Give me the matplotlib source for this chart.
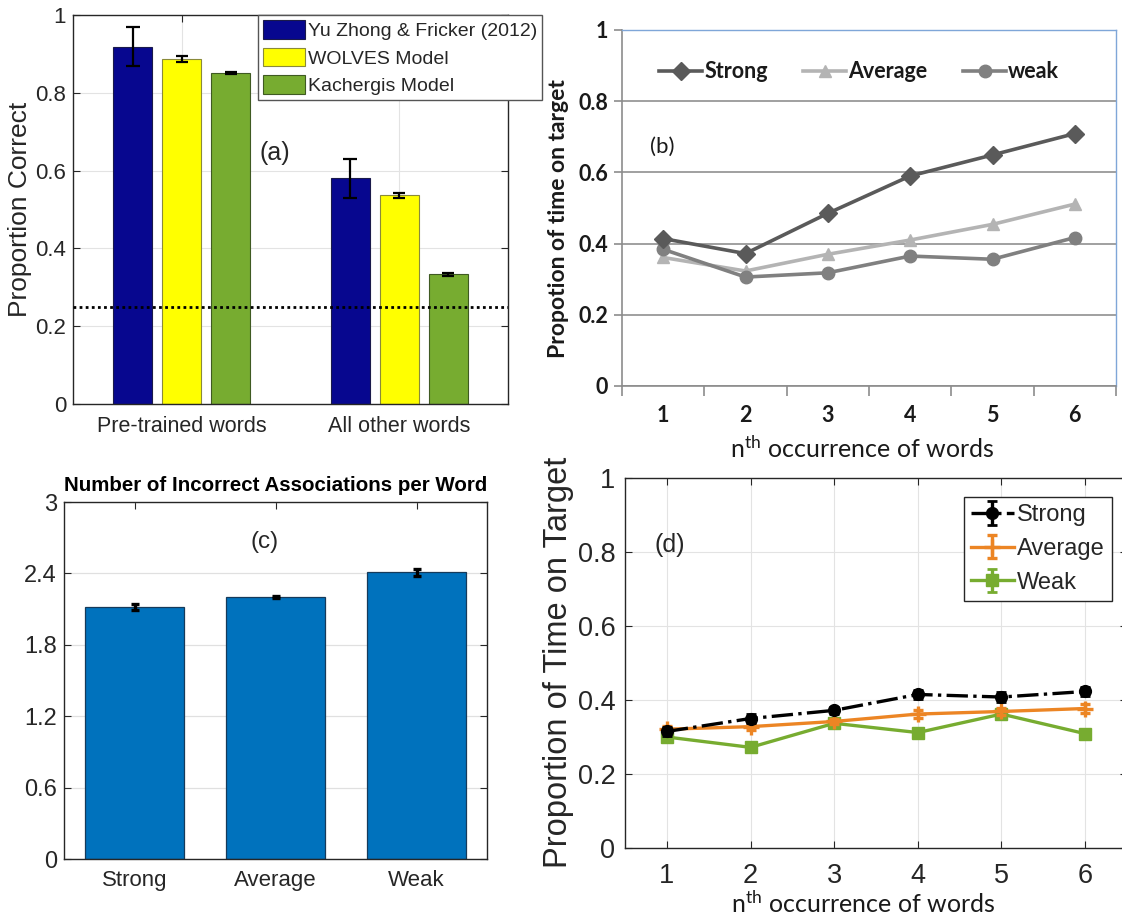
import numpy as np
import matplotlib
matplotlib.use('Agg')
import matplotlib.pyplot as plt

plt.rcParams['font.family'] = ['Liberation Sans', 'DejaVu Sans']
plt.rcParams['mathtext.fontset'] = 'custom'
plt.rcParams['mathtext.rm'] = 'Lato'
plt.rcParams['mathtext.it'] = 'Lato'

# ---- data: panel (a)
a_groups = ['Pre-trained words', 'All other words']
a_series = ['Yu Zhong & Fricker (2012)', 'WOLVES Model', 'Kachergis Model']
a_yu = [0.918, 0.580]
a_yu_err = [0.050, 0.050]
a_wolves = [0.887, 0.536]
a_wolves_err = [0.007, 0.006]
a_kach = [0.851, 0.334]
a_kach_err = [0.003, 0.004]
chance = 0.25

# ---- data: panel (b)
occ = [1, 2, 3, 4, 5, 6]
b_strong = [0.414, 0.372, 0.485, 0.590, 0.649, 0.709]
b_average = [0.361, 0.323, 0.370, 0.410, 0.454, 0.511]
b_weak = [0.384, 0.306, 0.318, 0.365, 0.356, 0.417]

# ---- data: panel (c)
c_cats = ['Strong', 'Average', 'Weak']
c_vals = [2.115, 2.198, 2.408]
c_err = [0.025, 0.008, 0.033]

# ---- data: panel (d)
d_strong = [0.315, 0.350, 0.372, 0.415, 0.408, 0.423]
d_strong_err = [0.012, 0.012, 0.010, 0.012, 0.014, 0.012]
d_average = [0.321, 0.328, 0.342, 0.362, 0.369, 0.377]
d_average_err = [0.010, 0.010, 0.008, 0.010, 0.010, 0.012]
d_weak = [0.300, 0.272, 0.337, 0.312, 0.362, 0.309]
d_weak_err = [0.012, 0.013, 0.012, 0.011, 0.014, 0.013]

W, H = 1122.0, 917.0
fig = plt.figure(figsize=(W / 100, H / 100), dpi=100)
fig.patch.set_facecolor('white')


def box(x0, y0, x1, y1):
    return [x0 / W, 1 - y1 / H, (x1 - x0) / W, (y1 - y0) / H]


def matlab_style(ax, fs):
    for s in ax.spines.values():
        s.set_color('#262626')
        s.set_linewidth(1.0)
    ax.tick_params(direction='in', top=True, right=True, length=5,
                   width=0.8, colors='#262626', labelsize=fs)


# ================= (a)
ax = fig.add_axes(box(73, 15, 508, 404))
gx = np.arange(1, len(a_groups) + 1)
off = 0.225
bw = 0.18
ax.bar(gx - off, a_yu, bw, color='#07078f', edgecolor='#1a1a4a', linewidth=0.8,
       label=a_series[0], zorder=2)
ax.bar(gx, a_wolves, bw, color='#ffff00', edgecolor='#8a8a3a', linewidth=0.8,
       label=a_series[1], zorder=2)
ax.bar(gx + off, a_kach, bw, color='#77ac30', edgecolor='#3f5a22', linewidth=0.8,
       label=a_series[2], zorder=2)
ax.errorbar(gx - off, a_yu, yerr=a_yu_err, fmt='none', ecolor='black',
            elinewidth=1.6, capsize=5, capthick=1.6, zorder=4)
ax.errorbar(gx, a_wolves, yerr=a_wolves_err, fmt='none', ecolor='black',
            elinewidth=1.6, capsize=4, capthick=1.6, zorder=4)
ax.errorbar(gx + off, a_kach, yerr=a_kach_err, fmt='none', ecolor='black',
            elinewidth=1.6, capsize=4, capthick=1.6, zorder=4)
ax.axhline(chance, color='black', linestyle=(0, (1, 1.2)), linewidth=2, zorder=3)
ax.set_xlim(0.5, 2.5)
ax.set_ylim(0, 1)
ax.set_xticks(gx)
ax.set_xticklabels(a_groups)
ax.set_yticks([0, 0.2, 0.4, 0.6, 0.8, 1])
ax.set_yticklabels(['0', '0.2', '0.4', '0.6', '0.8', '1'])
ax.grid(True, color='#e3e3e3', linewidth=0.8, zorder=0)
ax.set_axisbelow(True)
matlab_style(ax, 15.5)
ax.tick_params(axis='x', pad=9)
ax.tick_params(axis='y', pad=5, labelsize=16)
ax.set_ylabel('Proportion Correct', fontsize=19, color='#262626')
ax.yaxis.set_label_coords(-0.122, 0.5)
ax.yaxis.label.set_va('center')
ax.text(1.43, 0.645, '(a)', fontsize=18, ha='center', va='center', color='#262626')
leg = ax.legend(loc='upper left', bbox_to_anchor=(258 / W, 1 - 15 / H),
                bbox_transform=fig.transFigure, fontsize=14, frameon=True,
                fancybox=False, borderpad=0.25, borderaxespad=0,
                handlelength=2.15, handleheight=1.1, handletextpad=0.15,
                labelspacing=0.4)
leg.get_frame().set_edgecolor('#555555')
leg.get_frame().set_linewidth(1.0)
leg.get_frame().set_alpha(1)
for t in leg.get_texts():
    t.set_color('#262626')

# ================= (b)
ax = fig.add_axes(box(622, 30, 1116, 386))
ax.plot(occ, b_strong, color='#5a5a5a', linewidth=2.6, marker='D',
        markersize=9, label='Strong', zorder=4)
ax.plot(occ, b_average, color='#b4b4b4', linewidth=2.6, marker='^',
        markersize=9, label='Average', zorder=3)
ax.plot(occ, b_weak, color='#808080', linewidth=2.6, marker='o',
        markersize=9, label='weak', zorder=3)
ax.set_xlim(0.5, 6.5)
ax.set_ylim(0, 1)
ax.set_yticks([0, 0.2, 0.4, 0.6, 0.8, 1])
ax.set_yticklabels(['0', '0.2', '0.4', '0.6', '0.8', '1'])
ax.set_xticks(occ)
ax.set_xticklabels([str(v) for v in occ])
ax.set_xticks(np.arange(0.5, 7.0, 1.0), minor=True)
ax.grid(True, axis='y', color='#a0a0a0', linewidth=1.4, zorder=0)
ax.set_axisbelow(True)
for s in ['left', 'bottom']:
    ax.spines[s].set_color('#8c8c8c')
    ax.spines[s].set_linewidth(1.2)
for s in ['top', 'right']:
    ax.spines[s].set_color('#7fa6d8')
    ax.spines[s].set_linewidth(1.0)
ax.tick_params(axis='y', direction='out', length=6, width=1.2, color='#8c8c8c',
               pad=4, labelsize=15.5)
ax.tick_params(axis='x', which='major', length=0, pad=14, labelsize=15.5)
ax.tick_params(axis='x', which='minor', direction='out', length=7, width=1.2,
               color='#8c8c8c')
for lab in ax.get_xticklabels() + ax.get_yticklabels():
    lab.set_family(['Lato', 'DejaVu Sans'])
    lab.set_fontweight('bold')
    lab.set_color('#1a1a1a')
ax.set_ylabel('Propotion of time on target', fontsize=16.5, fontweight='bold',
              family=['Lato', 'DejaVu Sans'], color='#1a1a1a')
ax.yaxis.set_label_coords(-0.128, 0.469)
ax.yaxis.label.set_va('center')
ax.set_xlabel(r'$\mathrm{n^{th}}$ occurrence of words', fontsize=18,
              family=['Lato', 'DejaVu Sans'], color='#1a1a1a')
ax.xaxis.set_label_coords(0.487, -0.177)
ax.xaxis.label.set_va('center')
ax.text(0.99, 0.671, '(b)', fontsize=16, ha='center', va='center',
        family=['Lato', 'DejaVu Sans'], color='#1a1a1a')
leg = ax.legend(loc='center left', bbox_to_anchor=(659 / W, 1 - 72 / H),
                bbox_transform=fig.transFigure, ncol=3, frameon=False,
                borderpad=0, borderaxespad=0, handlelength=2.0,
                handletextpad=0.1, columnspacing=1.65,
                prop={'family': ['Lato', 'DejaVu Sans'], 'weight': 'bold',
                      'size': 15.5})
for t in leg.get_texts():
    t.set_color('#1a1a1a')

# ================= (c)
ax = fig.add_axes(box(64, 502, 487, 859))
cx = np.arange(1, len(c_cats) + 1)
ax.bar(cx, c_vals, 0.70, color='#0072bd', edgecolor='#163a5a', linewidth=0.9,
       zorder=2)
ax.errorbar(cx, c_vals, yerr=c_err, fmt='none', ecolor='black', elinewidth=2.4,
            capsize=3, capthick=2.4, zorder=4)
ax.set_xlim(0.5, 3.5)
ax.set_ylim(0, 3)
ax.set_xticks(cx)
ax.set_xticklabels(c_cats)
ax.set_yticks([0, 0.6, 1.2, 1.8, 2.4, 3])
ax.set_yticklabels(['0', '0.6', '1.2', '1.8', '2.4', '3'])
ax.grid(True, axis='y', color='#e0e0e0', linewidth=0.9, zorder=0)
ax.set_axisbelow(True)
matlab_style(ax, 16)
ax.tick_params(axis='x', pad=8)
ax.tick_params(axis='y', pad=5, labelsize=17)
ax.text(0.5, 1 + 17 / 357.0, 'Number of Incorrect Associations per Word',
        transform=ax.transAxes, ha='center', va='center', fontsize=14.8,
        fontweight='bold', color='black')
ax.text(1.925, 2.66, '(c)', fontsize=17.5, ha='center', va='center', color='#262626')

# ================= (d)
ax = fig.add_axes(box(625, 478, 1127, 848))
ax.errorbar(occ, d_strong, yerr=d_strong_err, color='black', linestyle='-.',
            linewidth=2.4, marker='o', markersize=8.5, capsize=3.5, capthick=2,
            label='Strong', zorder=5)
ax.errorbar(occ, d_average, yerr=d_average_err, color='#ec8524', linestyle='-',
            linewidth=2.4, marker='+', markersize=11, mew=2.4, capsize=3.5,
            capthick=2, label='Average', zorder=4)
ax.errorbar(occ, d_weak, yerr=d_weak_err, color='#77ac30', linestyle='-',
            linewidth=2.4, marker='s', markersize=8.5, capsize=3.5, capthick=2,
            label='Weak', zorder=3)
ax.set_xlim(0.5, 6.5)
ax.set_ylim(0, 1)
ax.set_xticks(occ)
ax.set_xticklabels([str(v) for v in occ])
ax.set_yticks([0, 0.2, 0.4, 0.6, 0.8, 1])
ax.set_yticklabels(['0', '0.2', '0.4', '0.6', '0.8', '1'])
ax.grid(True, color='#e3e3e3', linewidth=0.8, zorder=0)
ax.set_axisbelow(True)
matlab_style(ax, 19.5)
ax.tick_params(axis='x', pad=11)
ax.tick_params(axis='y', pad=7)
ax.set_ylabel('Proportion of Time on Target', fontsize=23.5, color='#262626')
ax.yaxis.set_label_coords(-0.133, 0.503)
ax.yaxis.label.set_va('center')
ax.set_xlabel(r'$\mathrm{n^{th}}$ occurrence of words', fontsize=18,
              family=['Lato', 'DejaVu Sans'], color='#1a1a1a')
ax.xaxis.set_label_coords(0.474, -0.152)
ax.xaxis.label.set_va('center')
ax.text(1.04, 0.82, '(d)', fontsize=18, ha='center', va='center', color='#262626')
leg = ax.legend(loc='upper left', bbox_to_anchor=(964 / W, 1 - 497 / H),
                bbox_transform=fig.transFigure, fontsize=17, frameon=True,
                fancybox=False, borderpad=0.3, borderaxespad=0,
                handlelength=1.8, handletextpad=0.15, labelspacing=0.5)
leg.get_frame().set_edgecolor('#262626')
leg.get_frame().set_linewidth(1.0)
leg.get_frame().set_alpha(1)
for t in leg.get_texts():
    t.set_color('#262626')

fig.savefig('out.png', dpi=100)
